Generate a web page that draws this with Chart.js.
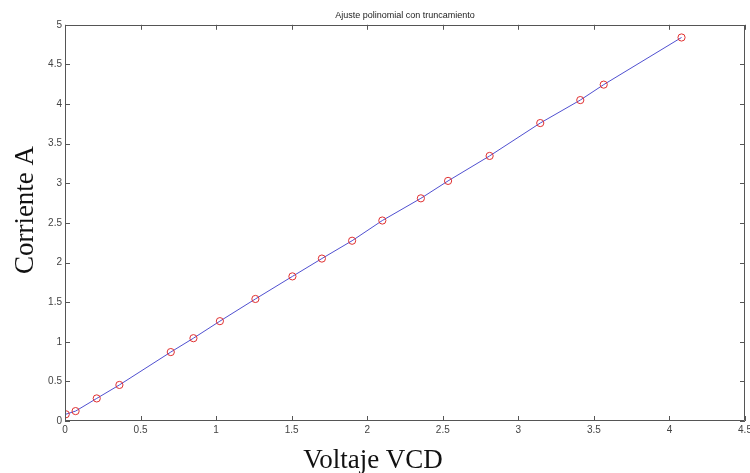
<!DOCTYPE html>
<html>
<head>
<meta charset="utf-8">
<script src="https://cdn.jsdelivr.net/npm/chart.js@4"></script>
<style>
  html, body { margin: 0; padding: 0; background: #fff; }
  #wrap { width: 750px; height: 473px; }
</style>
</head>
<body>
<div id="wrap"><canvas id="c" width="750" height="473"></canvas></div>
<script>
const chartTitle = 'Ajuste polinomial con truncamiento';
const xTitle = 'Voltaje VCD';
const yTitle = 'Corriente A';
const voltaje   = [0.005, 0.07, 0.21, 0.36, 0.70, 0.85, 1.025, 1.26, 1.505, 1.70, 1.90, 2.10, 2.355, 2.535, 2.81, 3.145, 3.41, 3.565, 4.08];
const corriente = [0.085, 0.125, 0.285, 0.455, 0.87, 1.045, 1.26, 1.54, 1.825, 2.05, 2.275, 2.53, 2.81, 3.03, 3.345, 3.76, 4.05, 4.245, 4.84];
const xTicks = [0, 0.5, 1, 1.5, 2, 2.5, 3, 3.5, 4, 4.5];
const yTicks = [0, 0.5, 1, 1.5, 2, 2.5, 3, 3.5, 4, 4.5, 5];

const pts = voltaje.map((v, i) => ({x: v, y: corriente[i]}));

const axisColor = '#555';
const serif = 'Liberation Serif, "Times New Roman", serif';
const sans = 'Liberation Sans, Arial, sans-serif';

const frameAndTitles = {
  id: 'frameAndTitles',
  afterDraw(chart) {
    const {ctx, chartArea: a, scales: {x, y}} = chart;
    ctx.save();
    // box
    ctx.strokeStyle = axisColor;
    ctx.lineWidth = 1;
    ctx.beginPath();
    ctx.rect(Math.round(a.left) + 0.5, Math.round(a.top) + 0.5, Math.round(a.right - a.left) - 1, Math.round(a.bottom - a.top) - 1);
    ctx.stroke();
    // inward tick marks on all four sides
    const L = 5;
    ctx.beginPath();
    xTicks.forEach(v => {
      const px = Math.round(x.getPixelForValue(v)) + 0.5;
      ctx.moveTo(px, a.bottom); ctx.lineTo(px, a.bottom - L);
      ctx.moveTo(px, a.top); ctx.lineTo(px, a.top + L);
    });
    yTicks.forEach(v => {
      const py = Math.round(y.getPixelForValue(v)) + 0.5;
      ctx.moveTo(a.left, py); ctx.lineTo(a.left + L, py);
      ctx.moveTo(a.right, py); ctx.lineTo(a.right - L, py);
    });
    ctx.stroke();
    // axis titles
    ctx.fillStyle = '#111';
    ctx.font = '27px ' + serif;
    ctx.textAlign = 'center';
    ctx.textBaseline = 'alphabetic';
    ctx.fillText(xTitle, 373, 468);
    ctx.translate(33, 210);
    ctx.rotate(-Math.PI / 2);
    ctx.fillText(yTitle, 0, 0);
    ctx.restore();
  }
};

new Chart(document.getElementById('c'), {
  type: 'scatter',
  data: {
    datasets: [
      {
        label: 'ajuste',
        data: pts,
        showLine: true,
        borderColor: '#5050d0',
        borderWidth: 1,
        pointRadius: 0,
        fill: false,
        order: 2
      },
      {
        label: 'datos',
        data: pts,
        showLine: false,
        pointStyle: 'circle',
        pointRadius: 3.6,
        pointBorderColor: '#e03030',
        pointBackgroundColor: 'rgba(0,0,0,0)',
        pointBorderWidth: 1,
        order: 1
      }
    ]
  },
  options: {
    responsive: false,
    animation: false,
    layout: { padding: { left: 0, right: 2, top: 0, bottom: 0 } },
    plugins: {
      legend: { display: false },
      tooltip: { enabled: false },
      title: {
        display: true,
        fullSize: false,
        text: chartTitle,
        color: '#222',
        font: { family: sans, size: 9, weight: 'normal' },
        padding: { top: 10, bottom: 4 }
      }
    },
    scales: {
      x: {
        type: 'linear',
        min: 0, max: 4.5,
        afterBuildTicks: s => { s.ticks = xTicks.map(v => ({value: v})); },
        afterFit: s => { s.height = 52; s.paddingLeft = 0; s.paddingRight = 0; },
        grid: { display: false, drawTicks: false },
        border: { display: false },
        ticks: {
          color: '#444', padding: 3,
          font: { family: sans, size: 10 },
          maxRotation: 0, autoSkip: false,
          callback: v => String(v)
        }
      },
      y: {
        type: 'linear',
        min: 0, max: 5,
        afterBuildTicks: s => { s.ticks = yTicks.map(v => ({value: v})); },
        afterFit: s => { s.width = 65; s.paddingTop = 0; s.paddingBottom = 0; },
        grid: { display: false, drawTicks: false },
        border: { display: false },
        ticks: {
          color: '#444', padding: 3,
          font: { family: sans, size: 10 },
          autoSkip: false,
          callback: v => String(v)
        }
      }
    }
  },
  plugins: [frameAndTitles]
});
</script>
</body>
</html>
